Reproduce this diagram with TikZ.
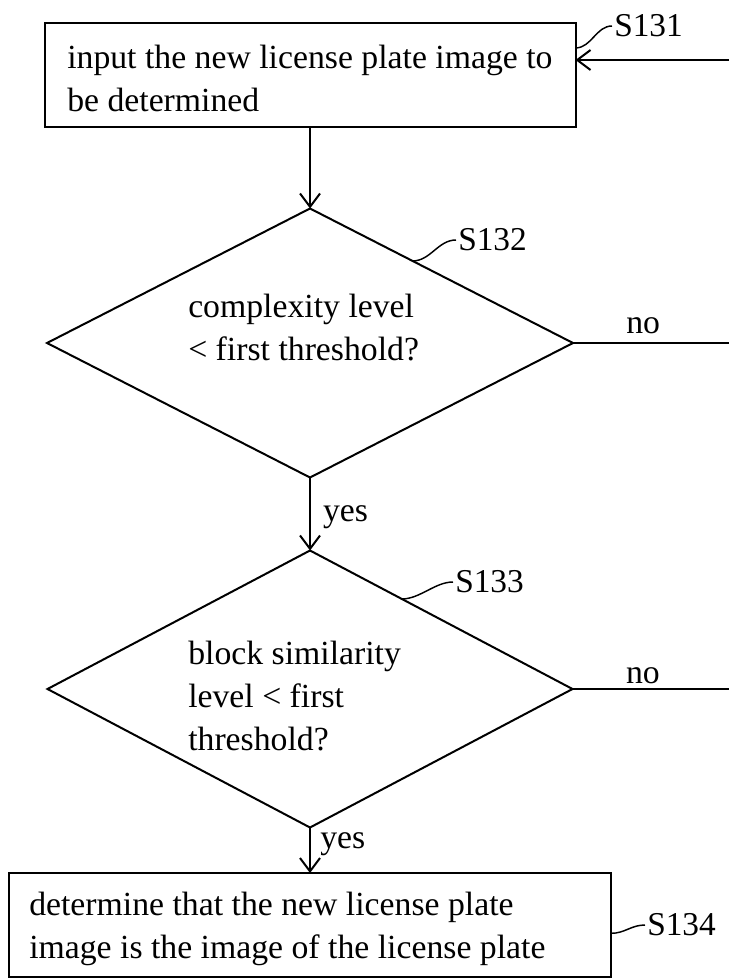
\documentclass[tikz,border=0pt]{standalone}
\usepackage{fontspec}
\setmainfont{Liberation Serif}
\usetikzlibrary{shapes.geometric,arrows.meta,calc}

\tikzset{
  stepbox/.style={draw, line width=1.5pt, rectangle, inner sep=0pt, outer sep=0pt},
  decision/.style={draw, line width=1.5pt, diamond, inner sep=0pt, outer sep=0pt},
  txt/.style={font=\fontsize{25.3}{32.25}\selectfont, inner sep=0pt, align=left},
  tag/.style={font=\fontsize{25}{28}\selectfont, inner sep=1.5pt, anchor=west},
  flow/.style={line width=1.5pt, -{Straight Barb[length=10pt,width=15pt]}},
  plain/.style={line width=1.5pt},
  leader/.style={line width=1.1pt},
}

\begin{document}
\begin{tikzpicture}[x=0.75pt,y=0.75pt,yscale=-1,xscale=1]
        \useasboundingbox (0,0) rectangle (729,980);

        %Shape: Rectangle [S131]
        \node [stepbox, minimum width=398.25pt, minimum height=78pt] (s131) at (310,75) {};
        %Shape: Diamond [S132]
        \node [decision, minimum width=394.5pt, minimum height=201.75pt] (s132) at (310,343) {};
        %Shape: Diamond [S133]
        \node [decision, minimum width=393.75pt, minimum height=207.75pt] (s133) at (310,689) {};
        %Shape: Rectangle [S134]
        \node [stepbox, minimum width=451.5pt, minimum height=78pt] (s134) at (310,925) {};

        % Text Node (base = last line)
        \node [txt, anchor=base west] (t131) at (67,112) {input the new license plate image to\\be determined};
        % Text Node
        \node [txt, anchor=base west] (t132) at (188,360) {complexity level\\< first threshold?};
        % Text Node
        \node [txt, anchor=base west] (t133) at (188,750) {block similarity\\level < first\\threshold?};
        % Text Node
        \node [txt, anchor=base west] (t134) at (29,958) {determine that the new license plate\\image is the image of the license plate};

        % step labels
        \node [tag] (l131) at (612,26) {S131};
        \node [tag] (l132) at (456,240) {S132};
        \node [tag] (l133) at (453,582) {S133};
        \node [tag] (l134) at (645,925) {S134};

        % loose ends at the right margin
        \coordinate (back) at (729,60);
        \coordinate (r132) at (729,343);
        \coordinate (r133) at (729,689);

        % connectors
        \draw [flow] (s131.south) -- (s132.north);
        \draw [flow] (s132.south) -- node [txt, anchor=west, pos=0.54, xshift=9pt] (y132) {yes} (s133.north);
        \draw [flow] (s133.south) -- node [txt, anchor=west, pos=0.36, xshift=7pt] (y133) {yes} (s134.north);
        \draw [plain] (s132.east) -- node [txt, above, pos=0.45, yshift=6pt] (n132) {no} (r132);
        \draw [plain] (s133.east) -- node [txt, above, pos=0.45, yshift=3pt] (n133) {no} (r133);
        \draw [flow] (back) -- (back -| s131.east);

        % leaders to the step labels
        \draw [leader] ($(s131.north east)!0.24!(s131.south east)$) .. controls +(16,0) and +(-16,0) .. (l131.west);
        \draw [leader] ($(s132.north)!0.39!(s132.east)$) .. controls +(18,0) and +(-18,0) .. (l132.west);
        \draw [leader] ($(s133.north)!0.35!(s133.east)$) .. controls +(18,0) and +(-18,0) .. (l133.west);
        \draw [leader] ($(s134.north east)!0.58!(s134.south east)$) .. controls +(14,0) and +(-14,0) .. (l134.west);
\end{tikzpicture}
\end{document}
